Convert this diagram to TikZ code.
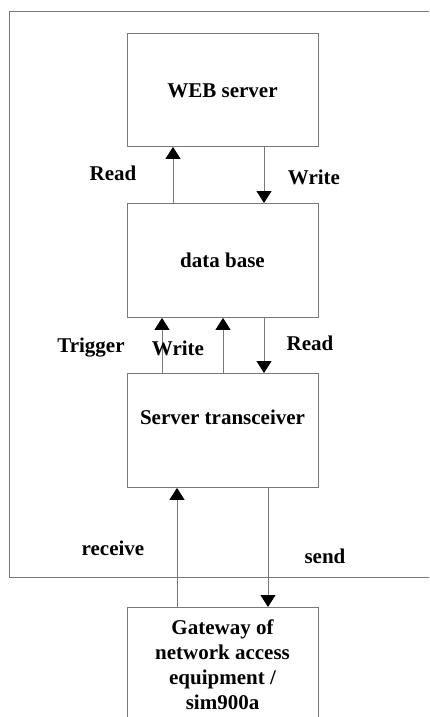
\documentclass[tikz,border=0pt]{standalone}
\usepackage{fontspec}
\setmainfont{Liberation Serif}
\usetikzlibrary{arrows.meta}
\definecolor{linegray}{RGB}{120,120,120}
\begin{document}
\begin{tikzpicture}[x=1pt,y=-1pt,
  box/.style={draw=linegray,line width=0.9pt,minimum width=191pt,inner sep=0pt},
  lbl/.style={font=\fontsize{21}{25}\selectfont\bfseries,inner sep=0pt},
  arr/.style={draw=linegray,line width=0.9pt,-{Triangle[width=15pt,length=12pt,color=black]}}]
\useasboundingbox (0,0) rectangle (429,717);
% outer frame (right edge off-picture)
\draw[linegray,line width=0.9pt] (429,11) -- (9,11) -- (9,577) -- (429,577);
% boxes
\node[box,minimum height=113pt,anchor=north west] (web) at (127,33) {};
\node[box,minimum height=114pt,anchor=north west] (db) at (127,203) {};
\node[box,minimum height=114pt,anchor=north west] (st) at (127,373) {};
\draw[linegray,line width=0.9pt] (127,720) -- (127,607) -- (318,607) -- (318,720);
\coordinate (gw) at (222.5,607);
% box texts
\node[lbl] (tweb) at (222.5,91) {WEB server};
\node[lbl] (tdb) at (222.5,260) {data base};
\node[lbl] (tst) at (222.5,417) {Server transceiver};
\node[lbl,align=center] (tgw) at (222.5,665) {Gateway of\\network access\\equipment /\\sim900a};
% arrows
\draw[arr] (db.north west -| 173,0) -- (web.south west -| 173,0);
\draw[arr] (web.south west -| 264,0) -- (db.north west -| 264,0);
\draw[arr] (st.north west -| 162,0) -- (db.south west -| 162,0);
\draw[arr] (st.north west -| 223,0) -- (db.south west -| 223,0);
\draw[arr] (db.south west -| 264,0) -- (st.north west -| 264,0);
\draw[arr] (gw -| 177,0) -- (st.south west -| 177,0);
\draw[arr] (st.south west -| 268,0) -- (gw -| 268,0);
% arrow labels
\node[lbl] (l1) at (113,173) {Read};
\node[lbl] (l2) at (314,177) {Write};
\node[lbl] (l3) at (91,348) {Trigger};
\node[lbl] (l4) at (178,348) {Write};
\node[lbl] (l5) at (310,343) {Read};
\node[lbl] (l6) at (113,548) {receive};
\node[lbl] (l7) at (325,556) {send};
\end{tikzpicture}
\end{document}
